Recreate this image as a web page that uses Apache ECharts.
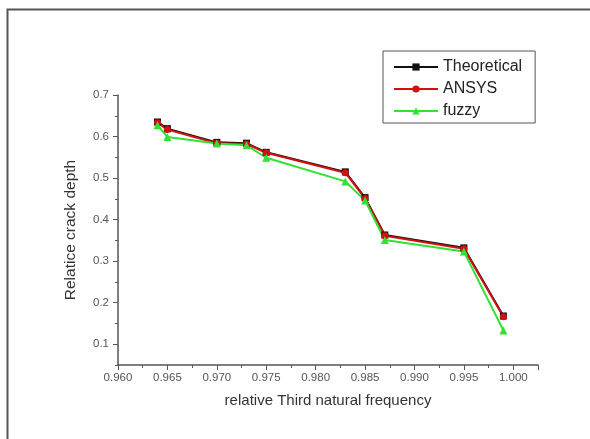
<!DOCTYPE html>
<html>
<head>
<meta charset="utf-8">
<script src="https://cdn.jsdelivr.net/npm/echarts@6/dist/echarts.min.js"></script>
<style>html,body{margin:0;padding:0;background:#fff}#c{width:590px;height:439px}</style>
</head>
<body>
<div id="c"></div>
<script>
const freq = [0.964, 0.965, 0.970, 0.973, 0.975, 0.983, 0.985, 0.987, 0.995, 0.999];
const theoretical = [0.635, 0.619, 0.586, 0.584, 0.562, 0.515, 0.453, 0.363, 0.332, 0.168];
const ansys = [0.633, 0.617, 0.584, 0.582, 0.561, 0.513, 0.451, 0.361, 0.330, 0.166];
const fuzzy = [0.627, 0.599, 0.583, 0.579, 0.549, 0.492, 0.446, 0.351, 0.323, 0.133];
const seriesNames = ['Theoretical', 'ANSYS', 'fuzzy'];
const xTitle = 'relative Third natural frequency';
const yTitle = 'Relatice crack depth';

const X_MIN = 0.96, X_MAX = 1.0025, X_STEP = 0.005;
const Y_MIN = 0.05, Y_MAX = 0.7, Y_MINOR = 0.05, Y_MAJOR = 0.1, Y_FIRST_MAJOR = 0.1;

const W = 590, H = 439;
const gLeft = 118, gRight = W - 538, gTop = 95, gBottom = H - 365;
const plotH = H - gTop - gBottom;
const gBottomMajor = gBottom + (Y_FIRST_MAJOR - Y_MIN) / (Y_MAX - Y_MIN) * plotH;

const pair = (xs, ys) => xs.map((x, i) => [x, ys[i]]);
const axisGrey = '#555';
const font = 'Arial, "Liberation Sans", sans-serif';

const chart = echarts.init(document.getElementById('c'), null, {renderer: 'canvas'});
chart.setOption({
  animation: false,
  backgroundColor: '#fff',
  graphic: [{
    type: 'rect', left: 5, top: 7, silent: true,
    shape: {x: 0, y: 0, width: 1000, height: 1000},
    style: {fill: 'none', stroke: '#555', lineWidth: 2}
  }],
  grid: [
    {left: gLeft, right: gRight, top: gTop, bottom: gBottom},
    {left: gLeft, right: gRight, top: gTop, bottom: gBottomMajor}
  ],
  legend: {
    orient: 'vertical', left: 383, top: 51,
    padding: [8, 13, 4, 10], itemGap: 6,
    itemWidth: 44, itemHeight: 9,
    borderColor: '#555', borderWidth: 1,
    textStyle: {fontSize: 16, color: '#222', fontFamily: font},
    data: seriesNames
  },
  xAxis: [{
    gridIndex: 0, type: 'value', min: X_MIN, max: X_MAX, interval: X_STEP,
    name: xTitle, nameLocation: 'middle', nameGap: 28,
    nameTextStyle: {fontSize: 15, color: '#333', fontFamily: font},
    axisLine: {lineStyle: {color: axisGrey, width: 1.5}},
    axisTick: {inside: false, length: 5, lineStyle: {color: axisGrey}},
    minorTick: {show: true, splitNumber: 2, length: 3, lineStyle: {color: axisGrey}},
    splitLine: {show: false},
    axisLabel: {
      fontSize: 11.5, color: '#555', fontFamily: font, margin: 7,
      formatter: v => Math.abs(Math.round(v / X_STEP) * X_STEP - v) < 1e-7 && v <= 1.0000001 ? v.toFixed(3) : ''
    }
  }, {
    gridIndex: 1, type: 'value', min: X_MIN, max: X_MAX, show: false
  }],
  yAxis: [{
    gridIndex: 0, type: 'value', min: Y_MIN, max: Y_MAX, interval: Y_MINOR,
    name: yTitle, nameLocation: 'middle', nameGap: 39,
    nameTextStyle: {fontSize: 15.5, color: '#333', fontFamily: font},
    axisLine: {show: true, lineStyle: {color: axisGrey, width: 1.5}},
    axisTick: {show: true, length: 3, lineStyle: {color: axisGrey}},
    axisLabel: {show: false},
    splitLine: {show: false}
  }, {
    gridIndex: 1, type: 'value', min: Y_FIRST_MAJOR, max: Y_MAX, interval: Y_MAJOR,
    axisLine: {show: false},
    axisTick: {show: true, length: 5, lineStyle: {color: axisGrey}},
    axisLabel: {fontSize: 11.5, color: '#555', fontFamily: font, margin: 9, formatter: v => v.toFixed(1)},
    splitLine: {show: false}
  }],
  series: [{
    name: seriesNames[0], type: 'line', xAxisIndex: 0, yAxisIndex: 0,
    data: pair(freq, theoretical), symbol: 'rect', symbolSize: 7,
    lineStyle: {color: '#111', width: 2}, itemStyle: {color: '#111'}, color: '#111'
  }, {
    name: seriesNames[1], type: 'line', xAxisIndex: 0, yAxisIndex: 0,
    data: pair(freq, ansys), symbol: 'circle', symbolSize: 7,
    lineStyle: {color: '#d21010', width: 2}, itemStyle: {color: '#d21010'}, color: '#d21010'
  }, {
    name: seriesNames[2], type: 'line', xAxisIndex: 0, yAxisIndex: 0,
    data: pair(freq, fuzzy), symbol: 'triangle', symbolSize: 8,
    lineStyle: {color: '#33e033', width: 2}, itemStyle: {color: '#33e033'}, color: '#33e033'
  }]
});
</script>
</body>
</html>
